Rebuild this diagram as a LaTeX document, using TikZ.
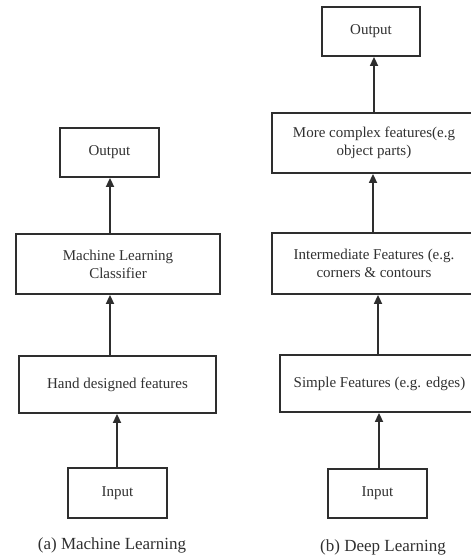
\documentclass[tikz,border=0pt]{standalone}
\usepackage{fontspec}
\setmainfont{Liberation Serif}
\usetikzlibrary{arrows.meta}
\definecolor{ink}{HTML}{2E2E2E}
\definecolor{txt}{HTML}{303030}
\tikzset{
  box/.style={draw=ink, line width=1.8pt, text=txt, align=center, inner sep=0pt,
    font=\fontsize{15}{18}\selectfont},
  arr/.style={draw=ink, line width=1.7pt, -{Triangle[width=8pt,length=9pt]}},
  captxt/.style={text=txt, font=\fontsize{17}{20}\selectfont, inner sep=0pt}
}
\begin{document}
\begin{tikzpicture}[x=1pt,y=-1pt]
\useasboundingbox (0,0) rectangle (471,557);
\clip (0,0) rectangle (471,557);
% left column
\node[box, minimum width=99pt, minimum height=49pt] (out1) at (109.5,152.5) {Output};
\node[box, minimum width=204pt, minimum height=60pt] (clf) at (118,264) {Machine Learning\\Classifier};
\node[box, minimum width=197pt, minimum height=57pt] (hand) at (117.5,384.5) {Hand designed features};
\node[box, minimum width=99pt, minimum height=50pt] (in1) at (117.5,493) {Input};
\node[captxt] (capa) at (112,545) {(a) Machine Learning};
\coordinate (ax1) at (110,0);
\coordinate (ax2) at (117,0);
\draw[arr] (clf.north -| ax1) -- (out1.south -| ax1);
\draw[arr] (hand.north -| ax1) -- (clf.south -| ax1);
\draw[arr] (in1.north -| ax2) -- (hand.south -| ax2);
% right column
\node[box, minimum width=98pt, minimum height=49pt] (out2) at (371,31.5) {Output};
\node[box, minimum width=204pt, minimum height=60pt] (cplx) at (374,143) {More complex features(e.g\\object parts)};
\node[box, minimum width=204pt, minimum height=61pt] (inter) at (374,263.5) {Intermediate Features (e.g.\\corners \& contours};
\node[box, minimum width=199pt, minimum height=57pt] (simp) at (379.5,383.5) {Simple Features (e.g. edges)};
\node[box, minimum width=99pt, minimum height=49pt] (in2) at (377.5,493.5) {Input};
\node[captxt] (capb) at (383,547) {(b) Deep Learning};
\coordinate (bx1) at (374,0);
\coordinate (bx2) at (373,0);
\coordinate (bx3) at (378,0);
\coordinate (bx4) at (379,0);
\draw[arr] (cplx.north -| bx1) -- (out2.south -| bx1);
\draw[arr] (inter.north -| bx2) -- (cplx.south -| bx2);
\draw[arr] (simp.north -| bx3) -- (inter.south -| bx3);
\draw[arr] (in2.north -| bx4) -- (simp.south -| bx4);
\end{tikzpicture}
\end{document}
